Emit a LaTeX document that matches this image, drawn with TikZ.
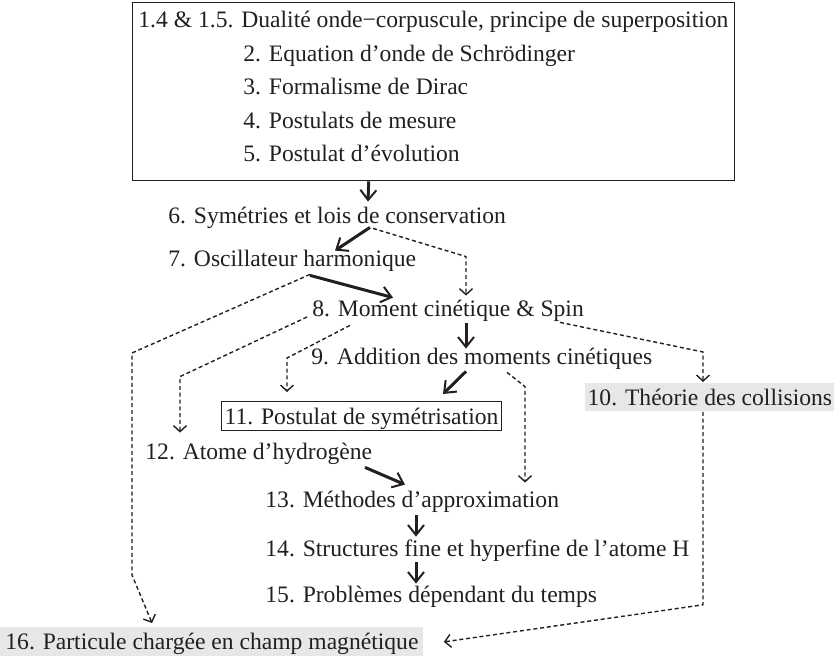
\documentclass[tikz,border=0pt]{standalone}
\usepackage{fontspec}
\setmainfont{Liberation Serif}
\usetikzlibrary{arrows.meta,calc}

\definecolor{encre}{RGB}{35,31,32}
\definecolor{grisclair}{RGB}{230,231,232}

\tikzset{
  titre/.style={anchor=base west, inner sep=0pt, text height=11pt, text depth=3pt, text=encre},
  cadre/.style={draw=encre, line width=0.7pt, inner sep=0pt},
  encadre/.style={draw=encre, line width=0.6pt, anchor=north west, inner xsep=1.5pt, inner ysep=0.25pt, text height=11pt, text depth=3pt, text=encre},
  grise/.style={fill=grisclair, anchor=north west, inner xsep=1pt, inner ysep=0pt, text height=11pt, text depth=3pt, text=encre},
  fort/.style={draw=encre, line width=1.5pt, -{Straight Barb[length=5pt, width=8pt, line width=1pt]}},
  tiret/.style={draw=encre, line width=0.7pt, dash pattern=on 2pt off 1.4pt, -{Straight Barb[length=3pt, width=6.5pt, line width=0.7pt]}}
}

\begin{document}
\begin{tikzpicture}[x=0.5pt, y=-0.5pt, font=\fontsize{11.8pt}{14pt}\selectfont]
\useasboundingbox (0,0) rectangle (834,656);

% the first chapters in one box
\node[cadre, anchor=north west, minimum width=301pt, minimum height=89pt] (bloc) at (132,2) {};
\node[titre] (l1) at (138,28) {1.4 \& 1.5. Dualité onde−corpuscule, principe de superposition};
\foreach \i/\y/\t in {2/62/{2. Equation d’onde de Schrödinger}, 3/95/{3. Formalisme de Dirac}, 4/129/{4. Postulats de mesure}, 5/162/{5. Postulat d’évolution}}
{
	\node[titre] (l\i) at (243,\y) {\t};
}

% the other chapters
\node[titre] (n6) at (168,224) {6. Symétries et lois de conservation};
\node[titre] (n7) at (168,267) {7. Oscillateur harmonique};
\node[titre] (n8) at (312,317) {8. Moment cinétique \& Spin};
\node[titre] (n9) at (311,365) {9. Addition des moments cinétiques};
\node[encadre] (n11) at (221,401) {11. Postulat de symétrisation};
\node[grise, minimum width=124.5pt] (n10) at (585,383) {10. Théorie des collisions};
\node[titre] (n12) at (145,460) {12. Atome d’hydrogène};
\node[titre] (n13) at (265,508) {13. Méthodes d’approximation};
\node[titre] (n14) at (265,557) {14. Structures fine et hyperfine de l’atome H};
\node[titre] (n15) at (265,603) {15. Problèmes dépendant du temps};
\node[grise, inner xsep=2.5pt, inner ysep=0.25pt] (n16) at (0,627) {16. Particule chargée en champ magnétique};

% solid arrows
\draw[fort] ($(bloc.south)+(-65,0)$) -- ($(n6.north west)+(200,0)$);
\draw[fort] ($(n6.south west)+(202,-3)$) -- ($(n7.north west)+(167,6)$);
\draw[fort] ($(n7.south west)+(142,2)$) -- ($(n8.north west)+(81,3)$);
\draw[fort] ($(n8.south west)+(154,0)$) -- ($(n9.north west)+(155,6)$);
\draw[fort] ($(n9.south west)+(155,0)$) -- ($(n11.north west)+(222,-7)$);
\draw[fort] ($(n12.south west)+(220,1)$) -- ($(n13.north west)+(140,-1)$);
\draw[fort] ($(n13.south west)+(151,1)$) -- ($(n14.north west)+(151,2)$);
\draw[fort] ($(n14.south west)+(151,-1)$) -- ($(n15.north west)+(151,3)$);

% dashed arrows
\draw[tiret] ($(n6.south west)+(205,-2)$) -- ($(n8.north west)+(154,-38)$) -- ($(n8.north west)+(154,1)$);
\draw[tiret] ($(n7.south west)+(142,1)$) -- ($(n16.north west)+(132,-274)$) -- ($(n16.north west)+(132,-52)$) -- ($(n16.north west)+(152,-4)$);
\draw[tiret] ($(n8.base west)+(-5,0)$) -- ($(n12.north west)+(35,-61)$) -- ($(n12.north west)+(35,-5)$);
\draw[tiret] ($(n8.south west)+(38,2)$) -- ($(n11.north west)+(66,-43)$) -- ($(n11.north west)+(66,-9)$);
\draw[tiret] ($(n8.south west)+(248,-1)$) -- ($(n10.north west)+(118,-31)$) -- ($(n10.north west)+(118,-1)$);
\draw[tiret] ($(n9.south west)+(196,1)$) -- ($(n13.north west)+(260,-99)$) -- ($(n13.north west)+(260,-3)$);
\draw[tiret] ($(n10.south west)+(118,0)$) -- ($(n10.south west)+(118,193)$) -- ($(n16.east)+(20,0)$);

\end{tikzpicture}
\end{document}
